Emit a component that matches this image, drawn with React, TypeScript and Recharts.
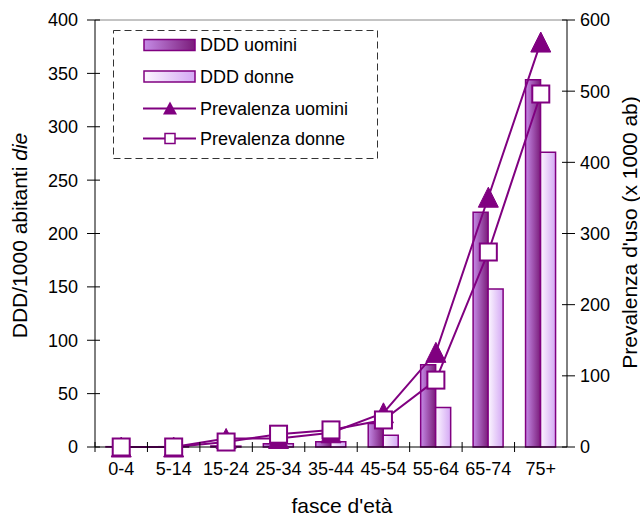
import React from 'react';
import { ComposedChart, Bar, Line, XAxis, YAxis, Legend, ReferenceLine, Label } from 'recharts';

// Age bands on the category axis
const ageGroups = ['0-4', '5-14', '15-24', '25-34', '35-44', '45-54', '55-64', '65-74', '75+'];
// DDD per 1000 inhabitants per day (left axis)
const dddMen = [0.3, 0.3, 1, 3, 5, 22, 77, 220, 344];
const dddWomen = [0.2, 0.2, 0.8, 3, 5, 11, 37, 148, 276];
// Prevalence of use per 1000 inhabitants (right axis)
const prevMen = [0, 0, 12, 12, 20, 48, 133, 351, 569];
const prevWomen = [0, 0, 7, 18, 24, 38, 94, 274, 496];
// Axis tick values
const dddTicks = [0, 50, 100, 150, 200, 250, 300, 350, 400];
const prevTicks = [0, 100, 200, 300, 400, 500, 600];

const data = ageGroups.map((group, i) => ({
  group,
  dddMen: dddMen[i],
  dddWomen: dddWomen[i],
  prevMen: prevMen[i],
  prevWomen: prevWomen[i],
}));

const PURPLE = '#800080';
const FONT = '"Liberation Sans", Arial, Helvetica, sans-serif';
const W = 640;
const H = 522;
const PLOT_LEFT = 95;
const PLOT_RIGHT = 567;
const PLOT_TOP = 20;
const PLOT_BOTTOM = 447;
const BAND = (PLOT_RIGHT - PLOT_LEFT) / ageGroups.length;
const TICK_FONT = 18;
const TITLE_FONT = 21;

const LeftTick = (props: any) => {
  const { y, payload } = props;
  return (
    <g>
      <line x1={PLOT_LEFT - 8} x2={PLOT_LEFT + 5} y1={y} y2={y} stroke="#000" />
      <text x={PLOT_LEFT - 17} y={y} dy="0.36em" textAnchor="end" fontSize={TICK_FONT} fontFamily={FONT} fill="#000">
        {payload.value}
      </text>
    </g>
  );
};

const RightTick = (props: any) => {
  const { y, payload } = props;
  return (
    <g>
      <line x1={PLOT_RIGHT - 5} x2={PLOT_RIGHT + 8} y1={y} y2={y} stroke="#000" />
      <text x={PLOT_RIGHT + 13} y={y} dy="0.36em" textAnchor="start" fontSize={TICK_FONT} fontFamily={FONT} fill="#000">
        {payload.value}
      </text>
    </g>
  );
};

// Category ticks sit on the band boundaries, labels in the band centre
const XTick = (props: any) => {
  const { x, payload } = props;
  const edge = x - BAND / 2;
  return (
    <g>
      <line x1={edge} x2={edge} y1={PLOT_BOTTOM - 5} y2={PLOT_BOTTOM + 5} stroke="#000" />
      <text x={x} y={PLOT_BOTTOM + 28} textAnchor="middle" fontSize={TICK_FONT} fontFamily={FONT} fill="#000">
        {payload.value}
      </text>
    </g>
  );
};

const triangleDot = (props: any) => {
  const { cx, cy, index } = props;
  const s = 10;
  return (
    <polygon
      key={`tri-${index}`}
      points={`${cx},${cy - s} ${cx - s},${cy + s} ${cx + s},${cy + s}`}
      fill={PURPLE}
      stroke={PURPLE}
      strokeWidth={1}
    />
  );
};

const squareDot = (props: any) => {
  const { cx, cy, index } = props;
  const s = 8.5;
  return (
    <rect
      key={`sq-${index}`}
      x={cx - s}
      y={cy - s}
      width={s * 2}
      height={s * 2}
      fill="#fff"
      stroke={PURPLE}
      strokeWidth={2}
    />
  );
};

const legendItems = [
  { name: 'DDD uomini', kind: 'barMen' },
  { name: 'DDD donne', kind: 'barWomen' },
  { name: 'Prevalenza uomini', kind: 'lineTri' },
  { name: 'Prevalenza donne', kind: 'lineSq' },
];

const LegendBox = () => {
  const rowY = [15, 46.5, 78.5, 108.5];
  return (
    <svg width={266} height={130} style={{ display: 'block', overflow: 'visible' }}>
      <defs>
        <linearGradient id="lgMen" x1="0" y1="0" x2="1" y2="0">
          <stop offset="0%" stopColor="#c58be6" />
          <stop offset="100%" stopColor="#7a1c7a" />
        </linearGradient>
        <linearGradient id="lgWomen" x1="0" y1="0" x2="1" y2="0">
          <stop offset="0%" stopColor="#fcf7ff" />
          <stop offset="100%" stopColor="#d4a8f4" />
        </linearGradient>
      </defs>
      <rect x={0.5} y={0.5} width={264} height={128} fill="#fff" stroke="#333" strokeDasharray="7 4" />
      {legendItems.map((item, i) => {
        const y = rowY[i];
        let mark: React.ReactNode = null;
        if (item.kind === 'barMen' || item.kind === 'barWomen') {
          mark = (
            <rect
              x={31}
              y={y - 5.5}
              width={51}
              height={11}
              fill={item.kind === 'barMen' ? 'url(#lgMen)' : 'url(#lgWomen)'}
              stroke={PURPLE}
              strokeWidth={1.5}
            />
          );
        } else if (item.kind === 'lineTri') {
          mark = (
            <g>
              <line x1={30} x2={83} y1={y} y2={y} stroke={PURPLE} strokeWidth={2} />
              <polygon points={`57,${y - 7} 50,${y + 6} 64,${y + 6}`} fill={PURPLE} />
            </g>
          );
        } else {
          mark = (
            <g>
              <line x1={30} x2={83} y1={y} y2={y} stroke={PURPLE} strokeWidth={2} />
              <rect x={52} y={y - 5} width={10} height={10} fill="#fff" stroke={PURPLE} strokeWidth={1.5} />
            </g>
          );
        }
        return (
          <g key={item.name}>
            {mark}
            <text x={87} y={y} dy="0.36em" fontSize={18} fontFamily={FONT} fill="#000">
              {item.name}
            </text>
          </g>
        );
      })}
    </svg>
  );
};

export default function App() {
  return (
    <div style={{ position: 'absolute', left: 0, top: 0, width: W, height: H, background: '#fff', fontFamily: FONT }}>
      <ComposedChart
        width={W}
        height={H}
        data={data}
        margin={{ top: PLOT_TOP, right: 0, bottom: 0, left: 0 }}
        barGap={0}
      >
        <defs>
          <linearGradient id="gradMen" x1="0" y1="0" x2="1" y2="0">
            <stop offset="0%" stopColor="#c58be6" />
            <stop offset="100%" stopColor="#7a1c7a" />
          </linearGradient>
          <linearGradient id="gradWomen" x1="0" y1="0" x2="1" y2="0">
            <stop offset="0%" stopColor="#fcf7ff" />
            <stop offset="100%" stopColor="#d4a8f4" />
          </linearGradient>
        </defs>
        <XAxis
          dataKey="group"
          height={H - PLOT_BOTTOM}
          interval={0}
          tick={XTick}
          tickLine={false}
          axisLine={{ stroke: '#000' }}
        >
          <Label
            content={(p: any) => {
              const vb = p.viewBox || {};
              const cx = vb.x + vb.width / 2 + 11;
              return (
                <text x={cx} y={PLOT_BOTTOM + 66} textAnchor="middle" fontSize={TITLE_FONT} fontFamily={FONT} fill="#000">
                  fasce d'età
                </text>
              );
            }}
          />
        </XAxis>
        <YAxis
          yAxisId="ddd"
          orientation="left"
          width={PLOT_LEFT}
          domain={[0, 400]}
          ticks={dddTicks}
          tick={LeftTick}
          tickLine={false}
          axisLine={{ stroke: '#000' }}
        >
          <Label
            content={(p: any) => {
              const vb = p.viewBox || {};
              const cx = 19;
              const cy = vb.y + vb.height / 2 + 2;
              return (
                <text
                  x={cx}
                  y={cy}
                  dy="0.36em"
                  transform={`rotate(-90 ${cx} ${cy})`}
                  textAnchor="middle"
                  fontSize={TITLE_FONT}
                  fontFamily={FONT}
                  fill="#000"
                >
                  DDD/1000 abitanti <tspan fontStyle="italic">die</tspan>
                </text>
              );
            }}
          />
        </YAxis>
        <YAxis
          yAxisId="prev"
          orientation="right"
          width={W - PLOT_RIGHT}
          domain={[0, 600]}
          ticks={prevTicks}
          tick={RightTick}
          tickLine={false}
          axisLine={{ stroke: '#000' }}
        >
          <Label
            content={(p: any) => {
              const vb = p.viewBox || {};
              const cx = 629;
              const cy = vb.y + vb.height / 2 - 1;
              return (
                <text
                  x={cx}
                  y={cy}
                  dy="0.36em"
                  transform={`rotate(-90 ${cx} ${cy})`}
                  textAnchor="middle"
                  fontSize={TITLE_FONT}
                  fontFamily={FONT}
                  fill="#000"
                >
                  Prevalenza d'uso (x 1000 ab)
                </text>
              );
            }}
          />
        </YAxis>
        <ReferenceLine yAxisId="ddd" y={400} stroke="#888" strokeWidth={1} />
        <Bar
          yAxisId="ddd"
          dataKey="dddMen"
          name="DDD uomini"
          fill="url(#gradMen)"
          stroke={PURPLE}
          strokeWidth={1.5}
          barSize={15}
          isAnimationActive={false}
        />
        <Bar
          yAxisId="ddd"
          dataKey="dddWomen"
          name="DDD donne"
          fill="url(#gradWomen)"
          stroke={PURPLE}
          strokeWidth={1.5}
          barSize={15}
          isAnimationActive={false}
        />
        <Line
          yAxisId="prev"
          type="linear"
          dataKey="prevMen"
          name="Prevalenza uomini"
          stroke={PURPLE}
          strokeWidth={2}
          dot={triangleDot}
          activeDot={false}
          isAnimationActive={false}
        />
        <Line
          yAxisId="prev"
          type="linear"
          dataKey="prevWomen"
          name="Prevalenza donne"
          stroke={PURPLE}
          strokeWidth={2}
          dot={squareDot}
          activeDot={false}
          isAnimationActive={false}
        />
        <Legend
          layout="vertical"
          align="center"
          verticalAlign="middle"
          content={() => <LegendBox />}
          wrapperStyle={{ position: 'absolute', left: 113, top: 30, width: 266, height: 130 }}
        />
      </ComposedChart>
    </div>
  );
}
